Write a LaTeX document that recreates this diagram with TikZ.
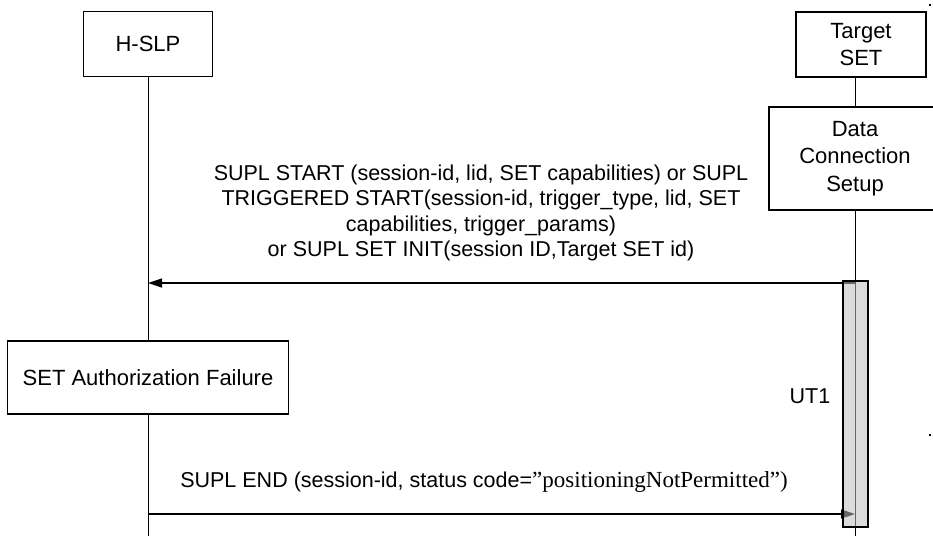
\documentclass[tikz,border=0pt]{standalone}
\usepackage{fontspec}
\setmainfont{Liberation Sans}
\newfontfamily\timesfont{Liberation Serif}
\usetikzlibrary{arrows.meta,positioning}

\begin{document}
\begin{tikzpicture}[
  x=1pt, y=-1pt,
  entity/.style={draw, line width=1.2pt, align=center, inner sep=0pt, font=\fontsize{22}{27.5}\selectfont},
  life/.style={line width=0.8pt},
  msg/.style={-{Triangle[length=14pt,width=9pt]}, line width=1.2pt},
  msgtext/.style={align=center, inner sep=0pt, font=\fontsize{21.5}{25.3}\selectfont}
]
\useasboundingbox (0,0) rectangle (933,536);
\node[entity, minimum width=129pt, minimum height=65pt] (hslp) at (148,44) {H-SLP};
\node[entity, minimum width=130pt, minimum height=65pt] (target) at (861,44.5) {Target\\SET};
\node[entity, minimum width=172pt, minimum height=103pt] (dcs) at (855,158.5) {Data\\Connection\\Setup};
\node[entity, minimum width=281pt, minimum height=73pt] (saf) at (148,377.5) {SET Authorization Failure};
\coordinate (hend) at (148,536);
\coordinate (tend) at (855,536);
% lifelines
\draw[life] (hslp.south) -- (saf.north);
\draw[life] (saf.south) -- (hend);
\draw[life] (target.south -| dcs.north) -- (dcs.north);
\draw[life] (dcs.south) -- (tend);
% messages
\node[msgtext] (m1) at (481,213) {SUPL START (session-id, lid, SET capabilities) or SUPL\\TRIGGERED START(session-id, trigger\_type, lid, SET\\capabilities, trigger\_params)\\or SUPL SET INIT(session ID,Target SET id)};
\coordinate (start1) at (855,283);
\draw[msg] (start1) -- (start1 -| hslp.south);
\node[msgtext] (m2) at (484,482) {SUPL END (session-id, status code={\timesfont\fontsize{23}{25.3}\selectfont ”positioningNotPermitted”)}};
\coordinate (start2) at (148,514);
\draw[msg] (start2) -- (start2 -| dcs.south);
% UT1 timer
\node[draw, line width=1.3pt, fill=black!26, fill opacity=0.54, minimum width=25pt, minimum height=246pt, inner sep=0pt] (ut1bar) at (855.5,404) {};
\node[msgtext] (ut1) at (810,396) {UT1};
\fill (929,4) rectangle (931,6);
\fill (929,434) rectangle (931,436);
\end{tikzpicture}
\end{document}
